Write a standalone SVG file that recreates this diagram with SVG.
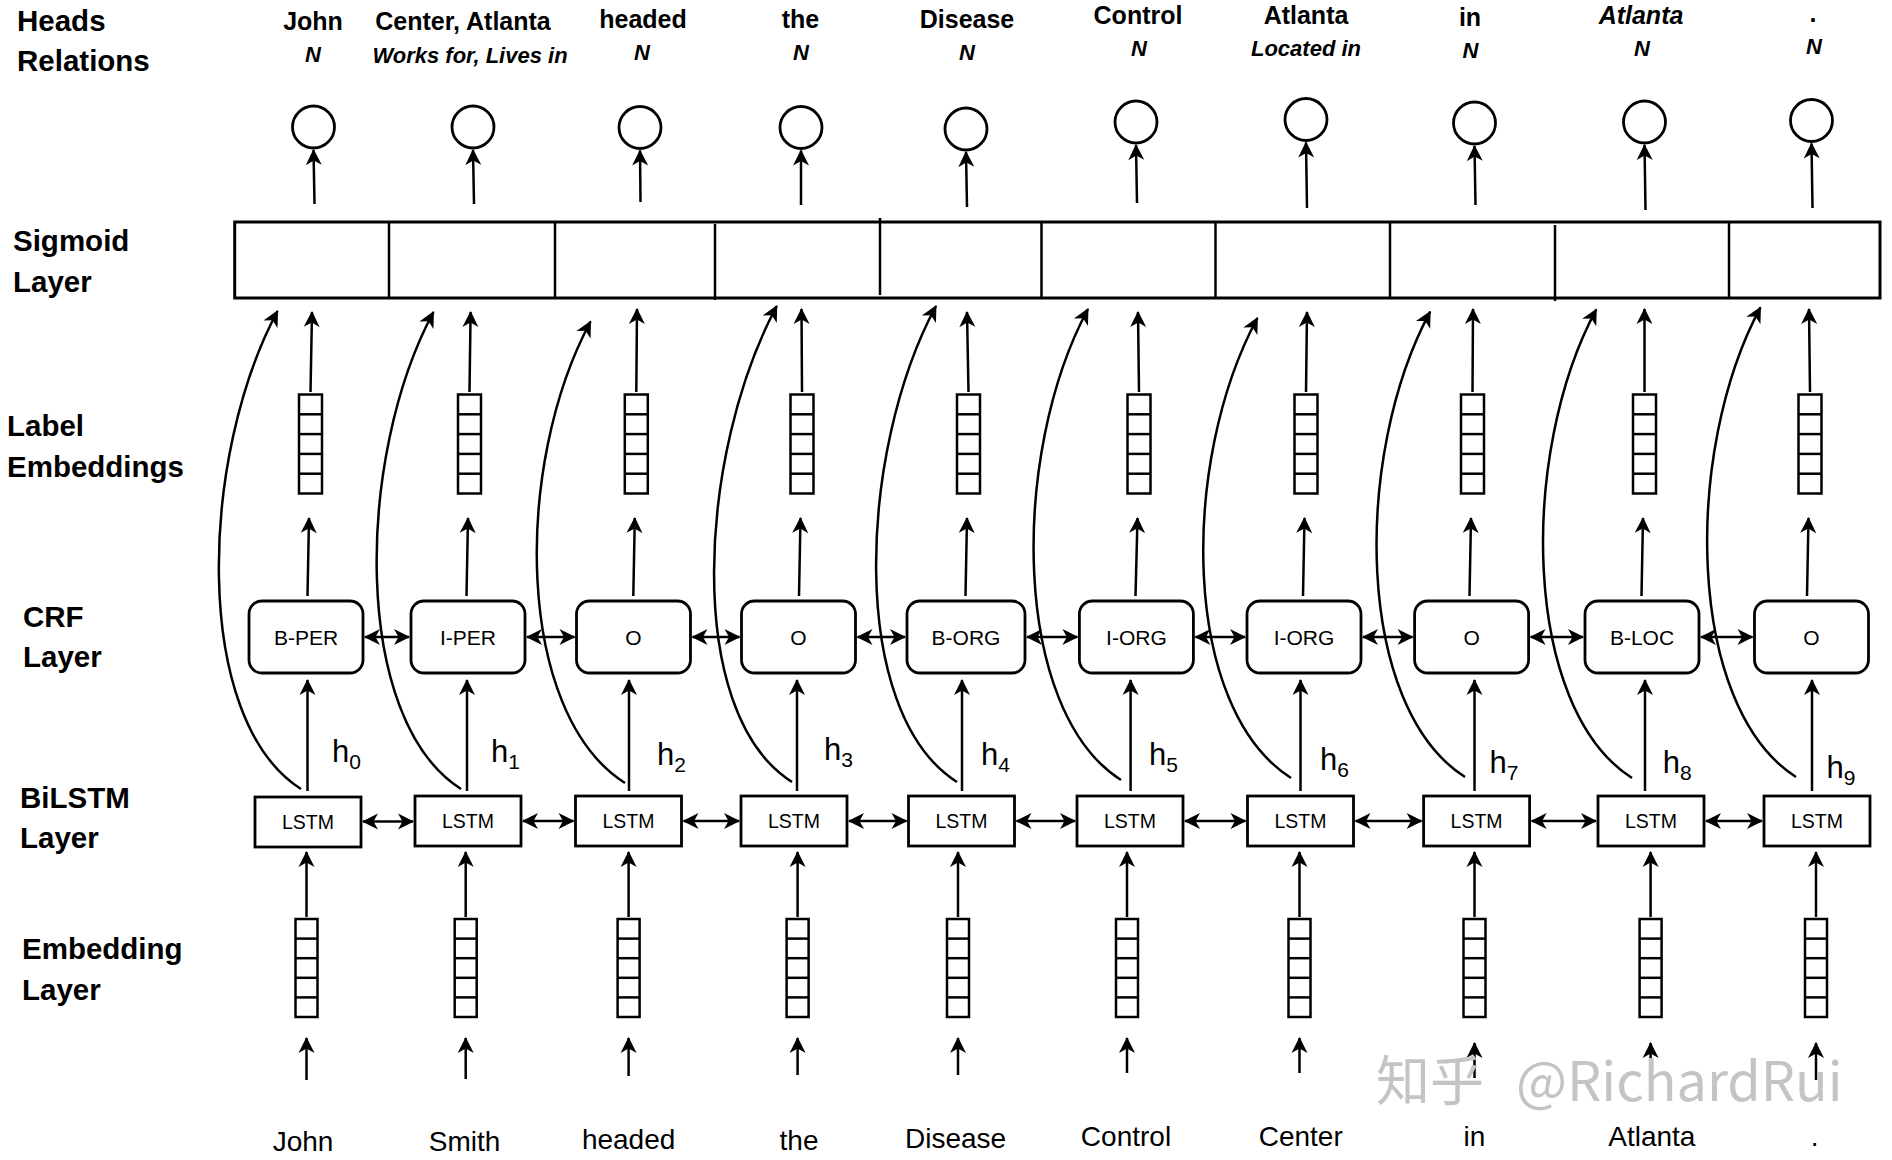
<svg xmlns="http://www.w3.org/2000/svg" width="1892" height="1160" viewBox="0 0 1892 1160">
<style>
text{font-family:"Liberation Sans",Arial,sans-serif;fill:#000}
.lab{font-size:29.5px;font-weight:bold}
.hw{font-size:25px;font-weight:bold;text-anchor:middle}
.hr{font-size:22px;font-weight:bold;font-style:italic;text-anchor:middle}
.crf{font-size:21px;text-anchor:middle}
.lt{font-size:19.5px;text-anchor:middle}
.w{font-size:28px;text-anchor:middle}
.h{font-size:31px}
.box{fill:#fff;stroke:#000;stroke-width:2.8}
.vec{fill:#fff;stroke:#000;stroke-width:2.5}
.div{stroke:#000;stroke-width:2.5}
.ar{fill:none;stroke:#000;stroke-width:2.5;marker-end:url(#ah)}
.dar{fill:none;stroke:#000;stroke-width:2.5;marker-end:url(#ah);marker-start:url(#ah)}
.cv{fill:none;stroke:#000;stroke-width:2.5;marker-end:url(#ah)}
.wm{font-family:"Noto Sans CJK SC","Liberation Sans",sans-serif;font-size:54px;fill:#c4c4c4}
</style>
<defs>
<marker id="ah" viewBox="-17 -9 19 18" refX="0" refY="0" markerWidth="19" markerHeight="18" markerUnits="userSpaceOnUse" orient="auto-start-reverse">
<path d="M1,0 L-15,-8 L-10.5,0 L-15,8 Z" fill="#000"/>
</marker>
</defs>
<rect width="1892" height="1160" fill="#fff"/>

<g id="layer-labels">
<text class="lab" x="17" y="31">Heads</text>
<text class="lab" x="17" y="71">Relations</text>
<text class="lab" x="13" y="251">Sigmoid</text>
<text class="lab" x="13" y="292">Layer</text>
<text class="lab" x="7" y="436">Label</text>
<text class="lab" x="7" y="477">Embeddings</text>
<text class="lab" x="23" y="627">CRF</text>
<text class="lab" x="23" y="667">Layer</text>
<text class="lab" x="20" y="808">BiLSTM</text>
<text class="lab" x="20" y="848">Layer</text>
<text class="lab" x="22" y="959">Embedding</text>
<text class="lab" x="22" y="1000">Layer</text>
</g>

<g id="sigmoid-layer">
<rect x="234.7" y="222" width="1645.3" height="76" fill="#fff" stroke="#000" stroke-width="3"/>
<line class="div" x1="389" y1="222" x2="389" y2="298"/>
<line class="div" x1="555" y1="222" x2="555" y2="298"/>
<line class="div" x1="715" y1="224" x2="715" y2="300"/>
<line class="div" x1="880" y1="218" x2="880" y2="295"/>
<line class="div" x1="1041.5" y1="222" x2="1041.5" y2="298"/>
<line class="div" x1="1215.5" y1="222" x2="1215.5" y2="298"/>
<line class="div" x1="1390" y1="222" x2="1390" y2="298"/>
<line class="div" x1="1555" y1="225" x2="1555" y2="301"/>
<line class="div" x1="1729" y1="222" x2="1729" y2="298"/>
</g>

<g id="col0">
<text class="hw" x="313" y="30">John</text><text class="hr" x="313" y="62">N</text>
<circle cx="313.5" cy="127" r="21" fill="#fff" stroke="#000" stroke-width="2.8"/>
<rect class="vec" x="299" y="394.5" width="23" height="99"/>
<line class="div" x1="299" y1="414.3" x2="322" y2="414.3"/><line class="div" x1="299" y1="434.1" x2="322" y2="434.1"/><line class="div" x1="299" y1="453.9" x2="322" y2="453.9"/><line class="div" x1="299" y1="473.7" x2="322" y2="473.7"/>
<rect class="box" x="249" y="601" width="114" height="72" rx="13"/><text class="crf" x="306" y="644.5">B-PER</text>
<text class="h" x="332" y="762">h<tspan font-size="21" dy="7">0</tspan></text>
<rect class="box" x="255" y="797" width="106" height="50"/><text class="lt" x="308" y="829">LSTM</text>
<rect class="vec" x="295.5" y="919" width="22" height="98"/>
<line class="div" x1="295.5" y1="938.6" x2="317.5" y2="938.6"/><line class="div" x1="295.5" y1="958.2" x2="317.5" y2="958.2"/><line class="div" x1="295.5" y1="977.8" x2="317.5" y2="977.8"/><line class="div" x1="295.5" y1="997.4" x2="317.5" y2="997.4"/>
<text class="w" x="303" y="1151">John</text>
</g>

<g id="col1">
<text class="hw" x="463" y="30">Center, Atlanta</text><text class="hr" x="470" y="63">Works for, Lives in</text>
<circle cx="473" cy="127" r="21" fill="#fff" stroke="#000" stroke-width="2.8"/>
<rect class="vec" x="458" y="394.5" width="23" height="99"/>
<line class="div" x1="458" y1="414.3" x2="481" y2="414.3"/><line class="div" x1="458" y1="434.1" x2="481" y2="434.1"/><line class="div" x1="458" y1="453.9" x2="481" y2="453.9"/><line class="div" x1="458" y1="473.7" x2="481" y2="473.7"/>
<rect class="box" x="411" y="601" width="114" height="72" rx="13"/><text class="crf" x="468" y="644.5">I-PER</text>
<text class="h" x="491" y="762">h<tspan font-size="21" dy="7">1</tspan></text>
<rect class="box" x="415" y="796" width="106" height="50"/><text class="lt" x="468" y="828">LSTM</text>
<rect class="vec" x="454.7" y="919" width="22" height="98"/>
<line class="div" x1="454.7" y1="938.6" x2="476.7" y2="938.6"/><line class="div" x1="454.7" y1="958.2" x2="476.7" y2="958.2"/><line class="div" x1="454.7" y1="977.8" x2="476.7" y2="977.8"/><line class="div" x1="454.7" y1="997.4" x2="476.7" y2="997.4"/>
<text class="w" x="464.5" y="1151">Smith</text>
</g>

<g id="col2">
<text class="hw" x="643" y="28">headed</text><text class="hr" x="642" y="60">N</text>
<circle cx="640" cy="127.5" r="21" fill="#fff" stroke="#000" stroke-width="2.8"/>
<rect class="vec" x="624.8" y="394.5" width="23" height="99"/>
<line class="div" x1="624.8" y1="414.3" x2="647.8" y2="414.3"/><line class="div" x1="624.8" y1="434.1" x2="647.8" y2="434.1"/><line class="div" x1="624.8" y1="453.9" x2="647.8" y2="453.9"/><line class="div" x1="624.8" y1="473.7" x2="647.8" y2="473.7"/>
<rect class="box" x="576.5" y="601" width="114" height="72" rx="13"/><text class="crf" x="633.5" y="644.5">O</text>
<text class="h" x="657" y="765">h<tspan font-size="21" dy="7">2</tspan></text>
<rect class="box" x="575.5" y="796" width="106" height="50"/><text class="lt" x="628.5" y="828">LSTM</text>
<rect class="vec" x="617.6" y="919" width="22" height="98"/>
<line class="div" x1="617.6" y1="938.6" x2="639.6" y2="938.6"/><line class="div" x1="617.6" y1="958.2" x2="639.6" y2="958.2"/><line class="div" x1="617.6" y1="977.8" x2="639.6" y2="977.8"/><line class="div" x1="617.6" y1="997.4" x2="639.6" y2="997.4"/>
<text class="w" x="628.6" y="1149">headed</text>
</g>

<g id="col3">
<text class="hw" x="800.5" y="28">the</text><text class="hr" x="801" y="60">N</text>
<circle cx="801" cy="127.5" r="21" fill="#fff" stroke="#000" stroke-width="2.8"/>
<rect class="vec" x="790.5" y="394.5" width="23" height="99"/>
<line class="div" x1="790.5" y1="414.3" x2="813.5" y2="414.3"/><line class="div" x1="790.5" y1="434.1" x2="813.5" y2="434.1"/><line class="div" x1="790.5" y1="453.9" x2="813.5" y2="453.9"/><line class="div" x1="790.5" y1="473.7" x2="813.5" y2="473.7"/>
<rect class="box" x="741.5" y="601" width="114" height="72" rx="13"/><text class="crf" x="798.5" y="644.5">O</text>
<text class="h" x="824" y="760">h<tspan font-size="21" dy="7">3</tspan></text>
<rect class="box" x="741" y="796" width="106" height="50"/><text class="lt" x="794" y="828">LSTM</text>
<rect class="vec" x="786.6" y="919" width="22" height="98"/>
<line class="div" x1="786.6" y1="938.6" x2="808.6" y2="938.6"/><line class="div" x1="786.6" y1="958.2" x2="808.6" y2="958.2"/><line class="div" x1="786.6" y1="977.8" x2="808.6" y2="977.8"/><line class="div" x1="786.6" y1="997.4" x2="808.6" y2="997.4"/>
<text class="w" x="799" y="1150">the</text>
</g>

<g id="col4">
<text class="hw" x="967" y="28">Disease</text><text class="hr" x="967" y="60">N</text>
<circle cx="966" cy="129" r="21" fill="#fff" stroke="#000" stroke-width="2.8"/>
<rect class="vec" x="957" y="394.5" width="23" height="99"/>
<line class="div" x1="957" y1="414.3" x2="980" y2="414.3"/><line class="div" x1="957" y1="434.1" x2="980" y2="434.1"/><line class="div" x1="957" y1="453.9" x2="980" y2="453.9"/><line class="div" x1="957" y1="473.7" x2="980" y2="473.7"/>
<rect class="box" x="907" y="601" width="118" height="72" rx="13"/><text class="crf" x="966" y="644.5">B-ORG</text>
<text class="h" x="981" y="765">h<tspan font-size="21" dy="7">4</tspan></text>
<rect class="box" x="908.5" y="796" width="106" height="50"/><text class="lt" x="961.5" y="828">LSTM</text>
<rect class="vec" x="947" y="919" width="22" height="98"/>
<line class="div" x1="947" y1="938.6" x2="969" y2="938.6"/><line class="div" x1="947" y1="958.2" x2="969" y2="958.2"/><line class="div" x1="947" y1="977.8" x2="969" y2="977.8"/><line class="div" x1="947" y1="997.4" x2="969" y2="997.4"/>
<text class="w" x="955.6" y="1148">Disease</text>
</g>

<g id="col5">
<text class="hw" x="1138" y="24">Control</text><text class="hr" x="1139" y="56">N</text>
<circle cx="1136" cy="122" r="21" fill="#fff" stroke="#000" stroke-width="2.8"/>
<rect class="vec" x="1127.5" y="394.5" width="23" height="99"/>
<line class="div" x1="1127.5" y1="414.3" x2="1150.5" y2="414.3"/><line class="div" x1="1127.5" y1="434.1" x2="1150.5" y2="434.1"/><line class="div" x1="1127.5" y1="453.9" x2="1150.5" y2="453.9"/><line class="div" x1="1127.5" y1="473.7" x2="1150.5" y2="473.7"/>
<rect class="box" x="1079.4" y="601" width="114" height="72" rx="13"/><text class="crf" x="1136.4" y="644.5">I-ORG</text>
<text class="h" x="1149" y="765">h<tspan font-size="21" dy="7">5</tspan></text>
<rect class="box" x="1077" y="796" width="106" height="50"/><text class="lt" x="1130" y="828">LSTM</text>
<rect class="vec" x="1116" y="919" width="22" height="98"/>
<line class="div" x1="1116" y1="938.6" x2="1138" y2="938.6"/><line class="div" x1="1116" y1="958.2" x2="1138" y2="958.2"/><line class="div" x1="1116" y1="977.8" x2="1138" y2="977.8"/><line class="div" x1="1116" y1="997.4" x2="1138" y2="997.4"/>
<text class="w" x="1126" y="1146">Control</text>
</g>

<g id="col6">
<text class="hw" x="1306" y="24">Atlanta</text><text class="hr" x="1306" y="56">Located in</text>
<circle cx="1306" cy="119.5" r="21" fill="#fff" stroke="#000" stroke-width="2.8"/>
<rect class="vec" x="1294.5" y="394.5" width="23" height="99"/>
<line class="div" x1="1294.5" y1="414.3" x2="1317.5" y2="414.3"/><line class="div" x1="1294.5" y1="434.1" x2="1317.5" y2="434.1"/><line class="div" x1="1294.5" y1="453.9" x2="1317.5" y2="453.9"/><line class="div" x1="1294.5" y1="473.7" x2="1317.5" y2="473.7"/>
<rect class="box" x="1247" y="601" width="114" height="72" rx="13"/><text class="crf" x="1304" y="644.5">I-ORG</text>
<text class="h" x="1320" y="770">h<tspan font-size="21" dy="7">6</tspan></text>
<rect class="box" x="1247.5" y="796" width="106" height="50"/><text class="lt" x="1300.5" y="828">LSTM</text>
<rect class="vec" x="1288.5" y="919" width="22" height="98"/>
<line class="div" x1="1288.5" y1="938.6" x2="1310.5" y2="938.6"/><line class="div" x1="1288.5" y1="958.2" x2="1310.5" y2="958.2"/><line class="div" x1="1288.5" y1="977.8" x2="1310.5" y2="977.8"/><line class="div" x1="1288.5" y1="997.4" x2="1310.5" y2="997.4"/>
<text class="w" x="1300.7" y="1146">Center</text>
</g>

<g id="col7">
<text class="hw" x="1470" y="26">in</text><text class="hr" x="1470.4" y="58">N</text>
<circle cx="1474.5" cy="123" r="21" fill="#fff" stroke="#000" stroke-width="2.8"/>
<rect class="vec" x="1461" y="394.5" width="23" height="99"/>
<line class="div" x1="1461" y1="414.3" x2="1484" y2="414.3"/><line class="div" x1="1461" y1="434.1" x2="1484" y2="434.1"/><line class="div" x1="1461" y1="453.9" x2="1484" y2="453.9"/><line class="div" x1="1461" y1="473.7" x2="1484" y2="473.7"/>
<rect class="box" x="1414.6" y="601" width="114" height="72" rx="13"/><text class="crf" x="1471.6" y="644.5">O</text>
<text class="h" x="1489.6" y="773">h<tspan font-size="21" dy="7">7</tspan></text>
<rect class="box" x="1423.6" y="796" width="106" height="50"/><text class="lt" x="1476.6" y="828">LSTM</text>
<rect class="vec" x="1463.5" y="919" width="22" height="98"/>
<line class="div" x1="1463.5" y1="938.6" x2="1485.5" y2="938.6"/><line class="div" x1="1463.5" y1="958.2" x2="1485.5" y2="958.2"/><line class="div" x1="1463.5" y1="977.8" x2="1485.5" y2="977.8"/><line class="div" x1="1463.5" y1="997.4" x2="1485.5" y2="997.4"/>
<text class="w" x="1474.5" y="1146">in</text>
</g>

<g id="col8">
<text class="hr" x="1641" y="24" style="font-size:25px">Atlanta</text><text class="hr" x="1642" y="56">N</text>
<circle cx="1644.5" cy="122" r="21" fill="#fff" stroke="#000" stroke-width="2.8"/>
<rect class="vec" x="1633" y="394.5" width="23" height="99"/>
<line class="div" x1="1633" y1="414.3" x2="1656" y2="414.3"/><line class="div" x1="1633" y1="434.1" x2="1656" y2="434.1"/><line class="div" x1="1633" y1="453.9" x2="1656" y2="453.9"/><line class="div" x1="1633" y1="473.7" x2="1656" y2="473.7"/>
<rect class="box" x="1585" y="601" width="114" height="72" rx="13"/><text class="crf" x="1642" y="644.5">B-LOC</text>
<text class="h" x="1662.8" y="773">h<tspan font-size="21" dy="7">8</tspan></text>
<rect class="box" x="1598" y="796" width="106" height="50"/><text class="lt" x="1651" y="828">LSTM</text>
<rect class="vec" x="1639.6" y="919" width="22" height="98"/>
<line class="div" x1="1639.6" y1="938.6" x2="1661.6" y2="938.6"/><line class="div" x1="1639.6" y1="958.2" x2="1661.6" y2="958.2"/><line class="div" x1="1639.6" y1="977.8" x2="1661.6" y2="977.8"/><line class="div" x1="1639.6" y1="997.4" x2="1661.6" y2="997.4"/>
<text class="w" x="1651.8" y="1146">Atlanta</text>
</g>

<g id="col9">
<text class="hw" x="1813" y="22">.</text><text class="hr" x="1814" y="54">N</text>
<circle cx="1811.5" cy="120.5" r="21" fill="#fff" stroke="#000" stroke-width="2.8"/>
<rect class="vec" x="1798.5" y="394.5" width="23" height="99"/>
<line class="div" x1="1798.5" y1="414.3" x2="1821.5" y2="414.3"/><line class="div" x1="1798.5" y1="434.1" x2="1821.5" y2="434.1"/><line class="div" x1="1798.5" y1="453.9" x2="1821.5" y2="453.9"/><line class="div" x1="1798.5" y1="473.7" x2="1821.5" y2="473.7"/>
<rect class="box" x="1754.5" y="601" width="114" height="72" rx="13"/><text class="crf" x="1811.5" y="644.5">O</text>
<text class="h" x="1826.6" y="778">h<tspan font-size="21" dy="7">9</tspan></text>
<rect class="box" x="1764" y="796" width="106" height="50"/><text class="lt" x="1817" y="828">LSTM</text>
<rect class="vec" x="1805" y="919" width="22" height="98"/>
<line class="div" x1="1805" y1="938.6" x2="1827" y2="938.6"/><line class="div" x1="1805" y1="958.2" x2="1827" y2="958.2"/><line class="div" x1="1805" y1="977.8" x2="1827" y2="977.8"/><line class="div" x1="1805" y1="997.4" x2="1827" y2="997.4"/>
<text class="w" x="1814.7" y="1146">.</text>
</g>

<g id="connectors">
<line class="ar" x1="314.5" y1="204" x2="313.5" y2="150"/>
<line class="ar" x1="474" y1="204" x2="473" y2="150"/>
<line class="ar" x1="640.5" y1="202" x2="640" y2="150.5"/>
<line class="ar" x1="801" y1="205" x2="801" y2="150.5"/>
<line class="ar" x1="967" y1="207" x2="966" y2="152"/>
<line class="ar" x1="1137" y1="203" x2="1136" y2="145"/>
<line class="ar" x1="1307" y1="208" x2="1306" y2="142.5"/>
<line class="ar" x1="1475.5" y1="205" x2="1474.5" y2="146"/>
<line class="ar" x1="1645.5" y1="210" x2="1644.5" y2="145"/>
<line class="ar" x1="1812.5" y1="208" x2="1811.5" y2="143.5"/>
<line class="ar" x1="310.5" y1="392" x2="312" y2="312"/>
<line class="ar" x1="469.5" y1="392" x2="470.6" y2="312"/>
<line class="ar" x1="636.3" y1="392" x2="637" y2="309"/>
<line class="ar" x1="802" y1="392" x2="801.5" y2="309"/>
<line class="ar" x1="968.5" y1="392" x2="967" y2="312"/>
<line class="ar" x1="1139" y1="392" x2="1138" y2="312"/>
<line class="ar" x1="1306" y1="392" x2="1307" y2="312"/>
<line class="ar" x1="1472.5" y1="392" x2="1473" y2="309"/>
<line class="ar" x1="1644.5" y1="392" x2="1644.5" y2="309"/>
<line class="ar" x1="1810" y1="392" x2="1809" y2="309"/>
<line class="ar" x1="307.5" y1="596" x2="309" y2="518"/>
<line class="ar" x1="466.5" y1="596" x2="468" y2="518"/>
<line class="ar" x1="633.3" y1="596" x2="634.8" y2="518"/>
<line class="ar" x1="799" y1="596" x2="800.5" y2="518"/>
<line class="ar" x1="965.5" y1="596" x2="967" y2="518"/>
<line class="ar" x1="1135.5" y1="596" x2="1137.5" y2="518"/>
<line class="ar" x1="1303" y1="596" x2="1304.5" y2="518"/>
<line class="ar" x1="1469.5" y1="596" x2="1471" y2="518"/>
<line class="ar" x1="1641.5" y1="596" x2="1643" y2="518"/>
<line class="ar" x1="1807" y1="596" x2="1808.5" y2="518"/>
<line class="ar" x1="307.5" y1="791" x2="307.5" y2="680"/>
<line class="ar" x1="467" y1="791" x2="467" y2="680"/>
<line class="ar" x1="629" y1="791" x2="629" y2="680"/>
<line class="ar" x1="797" y1="791" x2="797" y2="680"/>
<line class="ar" x1="962" y1="791" x2="962" y2="680"/>
<line class="ar" x1="1130.6" y1="791" x2="1130.6" y2="680"/>
<line class="ar" x1="1300.5" y1="791" x2="1300.5" y2="680"/>
<line class="ar" x1="1474.5" y1="791" x2="1474.5" y2="680"/>
<line class="ar" x1="1645" y1="791" x2="1645" y2="680"/>
<line class="ar" x1="1812" y1="791" x2="1812" y2="680"/>
<path class="cv" d="M301 789 C191 719 200 455 277.6 311"/>
<path class="cv" d="M461 789 C351 719 355.9 456 433.5 312"/>
<path class="cv" d="M625 783 C515 713 513 465.5 590.6 321.5"/>
<path class="cv" d="M792 782 C682 712 699.2 450 776.8 306"/>
<path class="cv" d="M957 782 C847 712 858.4 450 936 306"/>
<path class="cv" d="M1121 780 C1011 710 1010.4 453 1088 309"/>
<path class="cv" d="M1291 778 C1181 708 1179.8 462 1257.4 318"/>
<path class="cv" d="M1465 777 C1355 707 1352.6 455.7 1430.2 311.7"/>
<path class="cv" d="M1632 778 C1522 708 1518.7 453.3 1596.3 309.3"/>
<path class="cv" d="M1796 777 C1686 707 1682.9 451.3 1760.5 307.3"/>
<line class="dar" x1="365" y1="637" x2="409" y2="637"/>
<line class="dar" x1="527" y1="637" x2="574.5" y2="637"/>
<line class="dar" x1="692.5" y1="637" x2="739.5" y2="637"/>
<line class="dar" x1="857.5" y1="637" x2="905" y2="637"/>
<line class="dar" x1="1027" y1="637" x2="1077.4" y2="637"/>
<line class="dar" x1="1195.4" y1="637" x2="1245" y2="637"/>
<line class="dar" x1="1363" y1="637" x2="1412.6" y2="637"/>
<line class="dar" x1="1530.6" y1="637" x2="1583" y2="637"/>
<line class="dar" x1="1701" y1="637" x2="1752.5" y2="637"/>
<line class="dar" x1="363" y1="821.5" x2="413" y2="821.5"/>
<line class="dar" x1="523" y1="821" x2="573.5" y2="821"/>
<line class="dar" x1="683.5" y1="821" x2="739" y2="821"/>
<line class="dar" x1="849" y1="821" x2="906.5" y2="821"/>
<line class="dar" x1="1016.5" y1="821" x2="1075" y2="821"/>
<line class="dar" x1="1185" y1="821" x2="1245.5" y2="821"/>
<line class="dar" x1="1355.5" y1="821" x2="1421.6" y2="821"/>
<line class="dar" x1="1531.6" y1="821" x2="1596" y2="821"/>
<line class="dar" x1="1706" y1="821" x2="1762" y2="821"/>
<line class="ar" x1="306.5" y1="917" x2="306.5" y2="852"/>
<line class="ar" x1="465.7" y1="917" x2="465.7" y2="852"/>
<line class="ar" x1="628.6" y1="917" x2="628.6" y2="852"/>
<line class="ar" x1="797.6" y1="917" x2="797.6" y2="852"/>
<line class="ar" x1="958" y1="917" x2="958" y2="852"/>
<line class="ar" x1="1127" y1="917" x2="1127" y2="852"/>
<line class="ar" x1="1299.5" y1="917" x2="1299.5" y2="852"/>
<line class="ar" x1="1474.5" y1="917" x2="1474.5" y2="852"/>
<line class="ar" x1="1650.6" y1="917" x2="1650.6" y2="852"/>
<line class="ar" x1="1816" y1="917" x2="1816" y2="852"/>
<line class="ar" x1="306.5" y1="1080" x2="306.5" y2="1038"/>
<line class="ar" x1="465.7" y1="1079" x2="465.7" y2="1038"/>
<line class="ar" x1="628.6" y1="1076" x2="628.6" y2="1038"/>
<line class="ar" x1="797.6" y1="1075" x2="797.6" y2="1038"/>
<line class="ar" x1="958" y1="1075" x2="958" y2="1038"/>
<line class="ar" x1="1127" y1="1073" x2="1127" y2="1038"/>
<line class="ar" x1="1299.5" y1="1073" x2="1299.5" y2="1038"/>
<line class="ar" x1="1474.5" y1="1078" x2="1474.5" y2="1043"/>
<line class="ar" x1="1650.6" y1="1080" x2="1650.6" y2="1043"/>
<line class="ar" x1="1816" y1="1080" x2="1816" y2="1043"/>
</g>

<g id="watermark">
<text class="wm" x="1376" y="1101">知乎</text>
<text class="wm" x="1516" y="1101">@RichardRui</text>
</g>
</svg>
